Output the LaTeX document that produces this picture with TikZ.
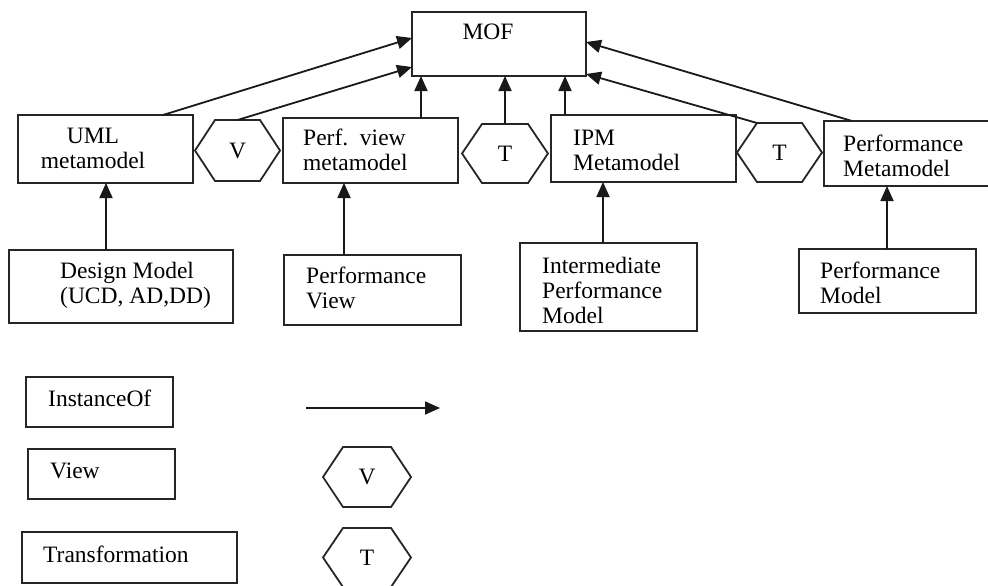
\documentclass[tikz,border=0pt]{standalone}
\usepackage{fontspec}
\setmainfont{Liberation Serif}
\usetikzlibrary{arrows.meta,calc}

\tikzset{
  frame/.style={draw=black!85, line width=1.8pt, inner sep=0pt, outer sep=0pt},
  hexbase/.style={inner sep=0pt, outer sep=0pt, font=\fontsize{23.5}{25}\selectfont},
  txt/.style={inner sep=0pt, anchor=west, align=left, font=\fontsize{23.5}{25}\selectfont},
  ctxt/.style={inner sep=0pt, align=center, font=\fontsize{23.5}{25}\selectfont},
  inst/.style={line width=1.8pt, draw=black!90, -{Triangle[length=15pt,width=13pt]}},
  hexline/.style={draw=black!85, line width=1.8pt, line join=miter},
}
% hexagonal outline around a node: pointed left and right, flat top and bottom
\newcommand\hexframe[1]{%
  \draw[hexline] (#1.west) -- ([xshift=20pt]#1.north west)
    -- ([xshift=-20pt]#1.north east) -- (#1.east)
    -- ([xshift=-20pt]#1.south east) -- ([xshift=20pt]#1.south west) -- cycle;}

\begin{document}
\begin{tikzpicture}[x=1pt,y=-1pt]
\useasboundingbox (0,0) rectangle (988,586);

% metamodel level
\node[frame, minimum width=174pt, minimum height=64pt] (mof) at (499,44) {};
\node[ctxt] (moft) at (488,32) {MOF};

\node[frame, minimum width=175pt, minimum height=68pt] (uml) at (105.5,149) {};
\node[ctxt] (umlt) at (93,148) {UML\\metamodel};

\node[hexbase, minimum width=85pt, minimum height=61pt] (vhex) at (237.5,150.5) {V};
\hexframe{vhex}

\node[frame, minimum width=175pt, minimum height=65pt] (pvm) at (370.5,150.5) {};
\node[txt] (pvmt) at (303,150) {Perf.\ \ view\\metamodel};

\node[hexbase, minimum width=86pt, minimum height=59pt] (thexa) at (505,153.5) {T};
\hexframe{thexa}

\node[frame, minimum width=185pt, minimum height=67pt] (ipm) at (643.5,148.5) {};
\node[txt] (ipmt) at (573,150) {IPM\\Metamodel};

\node[hexbase, minimum width=85pt, minimum height=59pt] (thexb) at (779.5,152.5) {T};
\hexframe{thexb}

\node[frame, minimum width=168pt, minimum height=65pt] (pmm) at (908,153.5) {};
\node[txt] (pmmt) at (843,156) {Performance\\Metamodel};

% model level
\node[frame, minimum width=224pt, minimum height=73pt] (dm) at (121,286.5) {};
\node[txt] (dmt) at (60,285) {Design Model\\(UCD, AD,DD)};

\node[frame, minimum width=177pt, minimum height=70pt] (pv) at (372.5,290) {};
\node[txt] (pvt) at (306,288) {Performance\\View};

\node[frame, minimum width=177pt, minimum height=88pt] (ipmod) at (608.5,287) {};
\node[txt] (ipmodt) at (542,290) {Intermediate\\Performance\\Model};

\node[frame, minimum width=177pt, minimum height=64pt] (pmod) at (887.5,281) {};
\node[txt] (pmodt) at (820,283) {Performance\\Model};

% instance-of connectors to MOF
\coordinate (c1) at ($(uml.north west)+(145,0)$);
\coordinate (c3) at ($(pvm.north west)+(138,0)$);
\coordinate (c5) at ($(ipm.north west)+(14,0)$);
\coordinate (c6) at ($(thexb.north west)+(20,0)$);
\coordinate (c7) at ($(pmm.north west)+(28,0)$);
\draw[inst] (c1) -- ($(mof.north west)+(0,26)$);
\draw[inst] (vhex.north) -- ($(mof.north west)+(0,55)$);
\draw[inst] (c3) -- (c3 |- mof.south);
\draw[inst] (thexa.north) -- (thexa.north |- mof.south);
\draw[inst] (c5) -- (c5 |- mof.south);
\draw[inst] (c6) -- ($(mof.north east)+(0,62)$);
\draw[inst] (c7) -- ($(mof.north east)+(0,30)$);

% instance-of connectors from models to metamodels
\coordinate (d1) at ($(dm.north west)+(97,0)$);
\coordinate (d2) at ($(pv.north west)+(60,0)$);
\coordinate (d3) at ($(ipmod.north west)+(83,0)$);
\coordinate (d4) at ($(pmod.north west)+(88,0)$);
\draw[inst] (d1) -- (d1 |- uml.south);
\draw[inst] (d2) -- (d2 |- pvm.south);
\draw[inst] (d3) -- (d3 |- ipm.south);
\draw[inst] (d4) -- (d4 |- pmm.south);

% legend
\node[frame, minimum width=147pt, minimum height=50pt] (lgi) at (99.5,402) {};
\node[txt] (lgit) at (48,398) {InstanceOf};
\node[frame, minimum width=147pt, minimum height=50pt] (lgv) at (101.5,474) {};
\node[txt] (lgvt) at (50,471) {View};
\node[frame, minimum width=215pt, minimum height=51pt] (lgt) at (129.5,557.5) {};
\node[txt] (lgtt) at (43,554) {Transformation};

\coordinate (la) at (306,408);
\coordinate (lb) at (440,408);
\draw[inst] (la) -- (lb);

\node[hexbase, minimum width=88pt, minimum height=60pt] (lgvh) at (367,477) {V};
\hexframe{lgvh}
\node[hexbase, minimum width=88pt, minimum height=59pt] (lgth) at (367,557.5) {T};
\hexframe{lgth}
\end{tikzpicture}
\end{document}
